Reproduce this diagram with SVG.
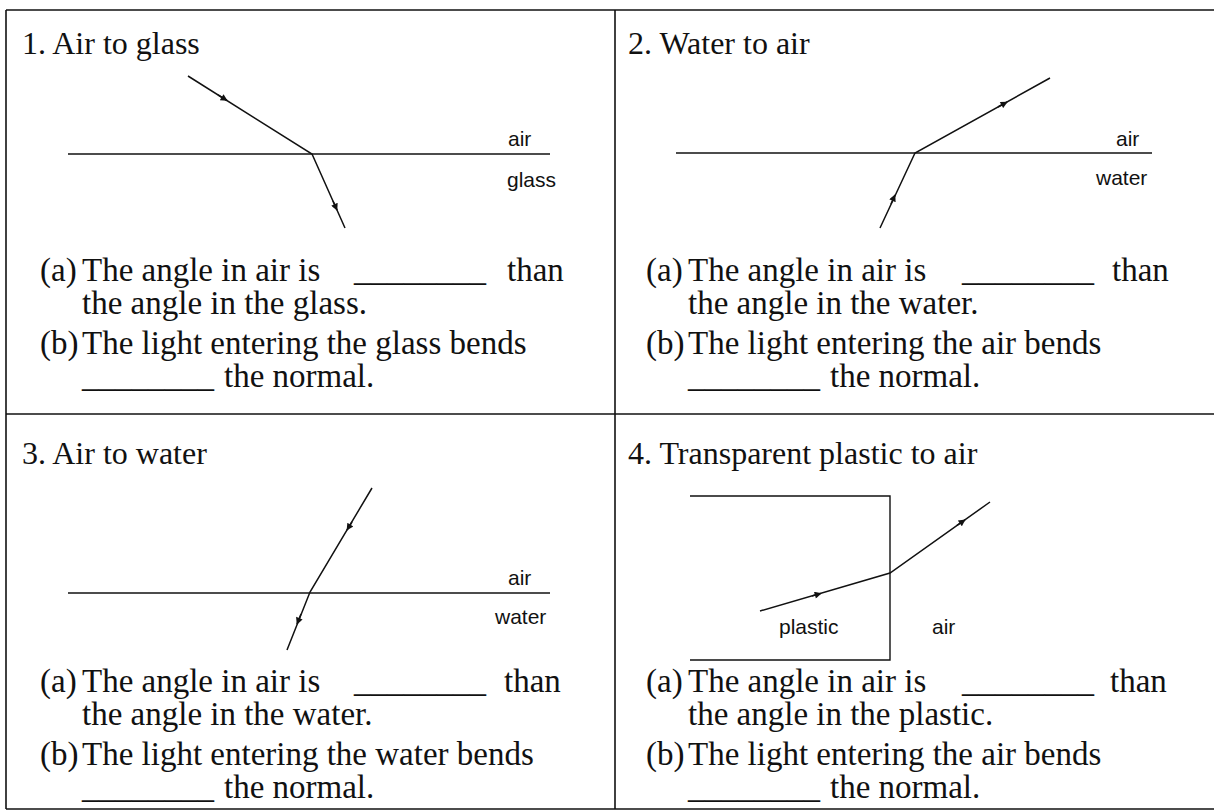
<svg xmlns="http://www.w3.org/2000/svg" width="1214" height="812" viewBox="0 0 1214 812">
<style>
.frame{stroke:#111;stroke-width:1.6;fill:none}
.ln{stroke:#111;stroke-width:1.4;fill:none}
.ray{stroke:#111;stroke-width:1.5;fill:none}
.arw{stroke:#111;stroke-width:1.5;fill:none;marker-end:url(#ah)}
.h{font-family:"Liberation Serif","Times New Roman",serif;font-size:32px;fill:#111}
.t{font-family:"Liberation Serif","Times New Roman",serif;font-size:33px;fill:#111}
.s{font-family:"Liberation Sans",Arial,sans-serif;font-size:21px;fill:#111}
</style>
<defs>
<marker id="ah" viewBox="0 0 10 10" refX="9" refY="5" markerWidth="9" markerHeight="7" markerUnits="userSpaceOnUse" orient="auto">
<path d="M0,0 L10,5 L0,10 z" fill="#111"/>
</marker>
</defs>
<rect width="1214" height="812" fill="#fff"/>
<g id="grid">
<line class="frame" x1="6" y1="10" x2="1214" y2="10"/>
<line class="frame" x1="6" y1="10" x2="6" y2="809"/>
<line class="frame" x1="6" y1="809" x2="1214" y2="809"/>
<line class="frame" x1="615" y1="10" x2="615" y2="809"/>
<line class="frame" x1="6" y1="414" x2="1214" y2="414"/>
</g>
<g id="panel1">
<text class="h" x="22" y="54">1.  Air to glass</text>
<line class="ln" x1="68" y1="154" x2="550" y2="154"/>
<text class="s" x="508" y="146">air</text>
<text class="s" x="507" y="187">glass</text>
<text class="t" x="40" y="281">(a)</text>
<text class="t" x="82" y="281">The angle in air is</text>
<text class="t" x="354" y="281">________</text>
<text class="t" x="507" y="281">than</text>
<text class="t" x="82" y="314">the angle in the glass.</text>
<text class="t" x="40" y="354">(b)</text>
<text class="t" x="82" y="354">The light entering the glass bends</text>
<text class="t" x="82" y="387">________</text>
<text class="t" x="224" y="387">the normal.</text>
</g>
<g id="panel2">
<text class="h" x="628" y="54">2.  Water to air</text>
<line class="ln" x1="676" y1="153" x2="1152" y2="153"/>
<text class="s" x="1116" y="146">air</text>
<text class="s" x="1096" y="185">water</text>
<text class="t" x="646" y="281">(a)</text>
<text class="t" x="688" y="281">The angle in air is</text>
<text class="t" x="962" y="281">________</text>
<text class="t" x="1112" y="281">than</text>
<text class="t" x="688" y="314">the angle in the water.</text>
<text class="t" x="646" y="354">(b)</text>
<text class="t" x="688" y="354">The light entering the air bends</text>
<text class="t" x="688" y="387">________</text>
<text class="t" x="830" y="387">the normal.</text>
</g>
<g id="panel3">
<text class="h" x="22" y="464">3.  Air to water</text>
<line class="ln" x1="68" y1="593" x2="550" y2="593"/>
<text class="s" x="508" y="585">air</text>
<text class="s" x="495" y="624">water</text>
<text class="t" x="40" y="692">(a)</text>
<text class="t" x="82" y="692">The angle in air is</text>
<text class="t" x="354" y="692">________</text>
<text class="t" x="504" y="692">than</text>
<text class="t" x="82" y="725">the angle in the water.</text>
<text class="t" x="40" y="765">(b)</text>
<text class="t" x="82" y="765">The light entering the water bends</text>
<text class="t" x="82" y="798">________</text>
<text class="t" x="224" y="798">the normal.</text>
</g>
<g id="panel4">
<text class="h" x="628" y="464">4.  Transparent plastic to air</text>
<path class="ln" d="M690,496 L890,496 L890,660 L690,660"/>
<text class="s" x="779" y="634">plastic</text>
<text class="s" x="932" y="634">air</text>
<text class="t" x="646" y="692">(a)</text>
<text class="t" x="688" y="692">The angle in air is</text>
<text class="t" x="962" y="692">________</text>
<text class="t" x="1110" y="692">than</text>
<text class="t" x="688" y="725">the angle in the plastic.</text>
<text class="t" x="646" y="765">(b)</text>
<text class="t" x="688" y="765">The light entering the air bends</text>
<text class="t" x="688" y="798">________</text>
<text class="t" x="830" y="798">the normal.</text>
</g>
<g id="connectors">
<path class="ray" d="M188,76 L312,154 L345,228"/>
<path class="arw" d="M218,94.9 L227,100.5"/>
<path class="arw" d="M333,201 L337,210"/>
<path class="ray" d="M880,228 L915,153 L1050,78"/>
<path class="arw" d="M891,204 L895,195"/>
<path class="arw" d="M998,107 L1007,102"/>
<path class="ray" d="M372,488 L310,592 L287,650"/>
<path class="arw" d="M301,614 L297,624"/>
<path class="arw" d="M352,522 L347,530"/>
<path class="ray" d="M760,611 L890,573 L990,502"/>
<path class="arw" d="M812,596 L821,593.4"/>
<path class="arw" d="M957,525.4 L965,519.8"/>
</g>
</svg>
